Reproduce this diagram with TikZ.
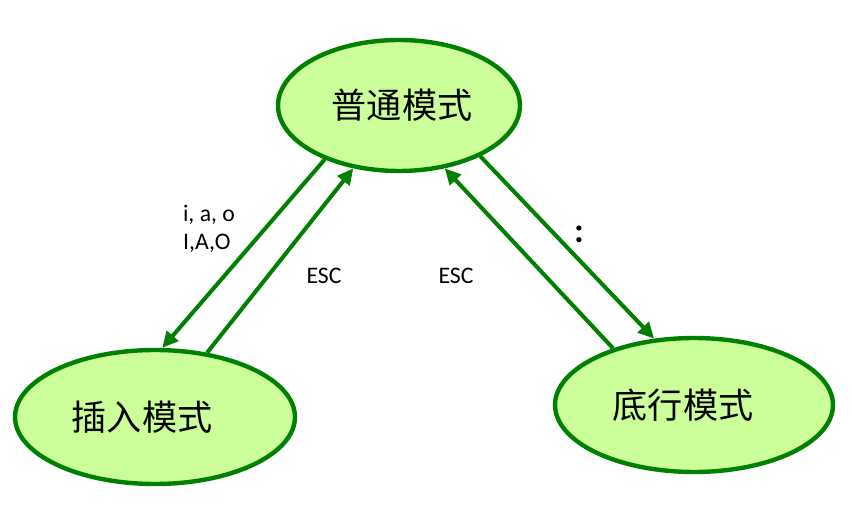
\documentclass[tikz,border=0pt]{standalone}
\usepackage{fontspec}
\setmainfont{Carlito}
\newfontfamily\cjk{Noto Sans CJK SC}
\usetikzlibrary{shapes.geometric,arrows.meta}
\definecolor{modegreen}{RGB}{0,128,0}
\definecolor{modefill}{RGB}{204,255,153}
\tikzset{
  mode/.style={ellipse, draw=modegreen, fill=modefill, line width=2.5pt, inner sep=0pt},
  modetext/.style={font=\cjk\fontsize{20}{24}\selectfont, inner sep=0pt},
  switch/.style={draw=modegreen, line width=2.3pt, -{Triangle[length=0.32cm,width=0.3cm]}},
  key/.style={font=\fontsize{13.5}{16}\selectfont, inner sep=0pt}
}
\begin{document}
\begin{tikzpicture}[x=0.02cm, y=-0.02cm]
  \useasboundingbox (0,0) rectangle (852,523);
  % the three modes
  \node (normal) [mode, minimum width=4.84cm, minimum height=2.62cm,
    label={[modetext, xshift=0.06cm]center:普通模式}] at (399,105.5) {};
  \node (insert) [mode, minimum width=5.6cm, minimum height=2.68cm,
    label={[modetext, xshift=-0.26cm]center:插入模式}] at (155,417) {};
  \node (lastline) [mode, minimum width=5.56cm, minimum height=2.68cm,
    label={[modetext, xshift=-0.22cm]center:底行模式}] at (694,405) {};
  % switching arrows
  \draw[switch] (normal.216.1) -- (insert.84.2);
  \draw[switch] (insert.51.1) -- (normal.234.8);
  \draw[switch] (lastline.145.2) -- (normal.306.4);
  \draw[switch] (normal.328.6) -- (lastline.121.7);
  % keys
  \node (toInsert) [key, align=left] at (209,229) {i, a, o\\I,A,O};
  \node (escInsert) [key] at (324,276) {ESC};
  \node (escLastline) [key] at (456,276) {ESC};
  \node (toLastline) [key, font=\fontsize{20}{24}\selectfont\bfseries] at (579,234) {:};
\end{tikzpicture}
\end{document}
